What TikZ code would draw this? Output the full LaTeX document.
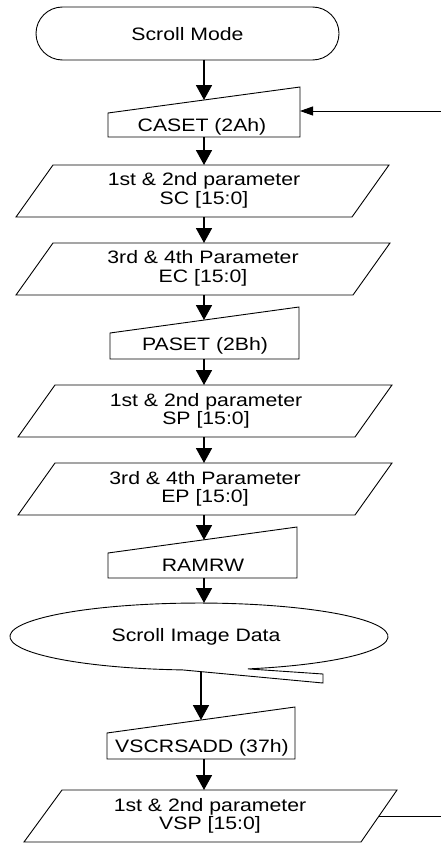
\documentclass[tikz,border=0pt]{standalone}
\usepackage{fontspec}
\setmainfont{Liberation Sans}[FakeStretch=1.18]
\usetikzlibrary{arrows.meta}
\begin{document}
\begin{tikzpicture}[x=1pt,y=-1pt,
  outline/.style={draw=black, line width=0.9pt, line join=miter},
  lbl/.style={font=\fontsize{18}{18.5}\selectfont, align=center, inner sep=0pt},
  flow/.style={draw=black, line width=1.7pt, -{Triangle[width=16pt,length=15pt]}},
  back/.style={draw=black, line width=0.9pt, -{Triangle[width=9pt,length=13pt]}},
  plain/.style={draw=black, line width=0.9pt},
]
\useasboundingbox (0,0) rectangle (441,843);

% Terminator
\draw[outline, rounded corners=26.5pt] (36,7) rectangle (339,60);
\node[lbl] (start) at (187.5,34) {Scroll Mode};
\coordinate (startB) at (204,60);

% CASET
\draw[outline] (108,113) -- (300,87) -- (300,137) -- (108,137) -- cycle;
\node[lbl] (caset) at (202,126.5) {CASET (2Ah)};
\coordinate (casetT) at (204,100);
\coordinate (casetB) at (204,137);
\coordinate (casetR) at (300,111);

% Parameter 1
\draw[outline] (53,165) -- (389,165) -- (352,217) -- (16,217) -- cycle;
\node[lbl] (pa) at (204,190.5) {1st \& 2nd parameter\\SC [15:0]};
\coordinate (paT) at (204,165);
\coordinate (paB) at (204,217);

% Parameter 2
\draw[outline] (53,243) -- (390,243) -- (353,295) -- (16,295) -- cycle;
\node[lbl] (pb) at (203,268.5) {3rd \& 4th Parameter\\EC [15:0]};
\coordinate (pbT) at (204,243);
\coordinate (pbB) at (204,295);

% PASET
\draw[outline] (110,333) -- (299,307) -- (299,359) -- (110,359) -- cycle;
\node[lbl] (paset) at (205,345.5) {PASET (2Bh)};
\coordinate (pasetT) at (204,320);
\coordinate (pasetB) at (204,359);

% Parameter 3
\draw[outline] (55,385) -- (392,385) -- (355,437) -- (18,437) -- cycle;
\node[lbl] (pc) at (206,411) {1st \& 2nd parameter\\SP [15:0]};
\coordinate (pcT) at (204,385);
\coordinate (pcB) at (204,437);

% Parameter 4
\draw[outline] (55,463) -- (392,463) -- (355,515) -- (18,515) -- cycle;
\node[lbl] (pd) at (205,489) {3rd \& 4th Parameter\\EP [15:0]};
\coordinate (pdT) at (204,463);
\coordinate (pdB) at (204,515);

% RAMRW
\draw[outline] (108,553) -- (297,527) -- (297,578) -- (108,578) -- cycle;
\node[lbl] (ramrw) at (203,565.5) {RAMRW};
\coordinate (ramrwT) at (204,540);
\coordinate (ramrwB) at (204,578);

% Scroll Image Data (sequential storage)
\draw[outline] (247.9,668.9) arc[start angle=75, end angle=-265, x radius=189, y radius=33.5]
  -- (323,683) -- (323,674) -- cycle;
\node[lbl] (sid) at (196,636.5) {Scroll Image Data};
\coordinate (sidT) at (204,603);
\coordinate (sidB) at (201,671.6);

% VSCRSADD
\draw[outline] (107,733) -- (295,707) -- (295,759) -- (107,759) -- cycle;
\node[lbl] (vs) at (202,748) {VSCRSADD (37h)};
\coordinate (vsT) at (201,720);
\coordinate (vsB) at (204,759);

% Parameter 5
\draw[outline] (62,790) -- (397,790) -- (361,842) -- (24,842) -- cycle;
\node[lbl] (pe) at (210,816) {1st \& 2nd parameter\\VSP [15:0]};
\coordinate (peT) at (204,790);
\coordinate (peR) at (378.5,816);

% loop ends at the frame edge
\coordinate (loopIn) at (441,111);
\coordinate (loopOut) at (441,816);

% Connectors
\draw[flow] (startB) -- (casetT);
\draw[flow] (casetB) -- (paT);
\draw[flow] (paB) -- (pbT);
\draw[flow] (pbB) -- (pasetT);
\draw[flow] (pasetB) -- (pcT);
\draw[flow] (pcB) -- (pdT);
\draw[flow] (pdB) -- (ramrwT);
\draw[flow] (ramrwB) -- (sidT);
\draw[flow] (sidB) -- (vsT);
\draw[flow] (vsB) -- (peT);
\draw[back] (loopIn) -- (casetR);
\draw[plain] (peR) -- (loopOut);
\end{tikzpicture}
\end{document}
